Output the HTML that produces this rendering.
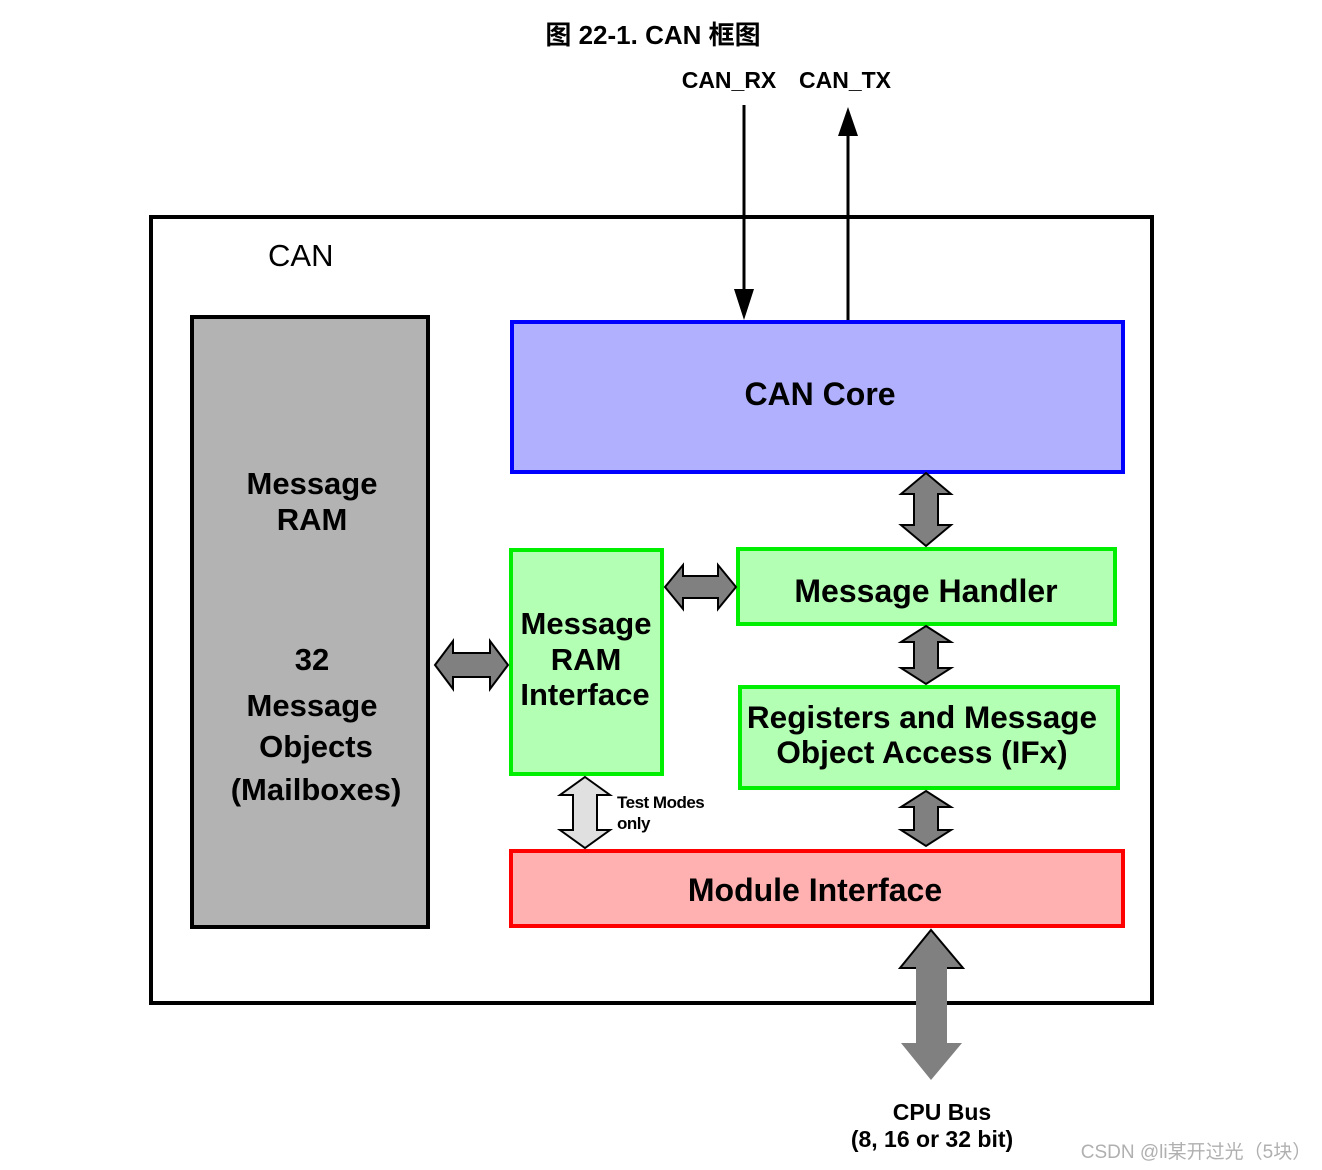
<!DOCTYPE html>
<html><head><meta charset="utf-8"><style>
html,body{margin:0;padding:0;background:#fff;}
svg{display:block;}
text{font-family:"Liberation Sans","Noto Sans CJK SC",sans-serif;font-weight:bold;fill:#000;}
</style></head><body>
<svg width="1322" height="1170" viewBox="0 0 1322 1170" xmlns="http://www.w3.org/2000/svg">
<text x="653" y="44" font-size="26" text-anchor="middle">图 22-1. CAN 框图</text>
<text x="729" y="88" font-size="23" text-anchor="middle">CAN_RX</text>
<text x="845" y="88" font-size="23" text-anchor="middle">CAN_TX</text>

<rect x="151" y="217" width="1001" height="786" fill="none" stroke="#000" stroke-width="4"/>
<text x="268" y="266" font-size="31" style="font-weight:normal">CAN</text>

<line x1="744" y1="105" x2="744" y2="295" stroke="#000" stroke-width="3"/>
<polygon points="734,289 754,289 744,320" fill="#000"/>
<line x1="848" y1="130" x2="848" y2="321" stroke="#000" stroke-width="3"/>
<polygon points="838,136 858,136 848,107" fill="#000"/>

<rect x="192" y="317" width="236" height="610" fill="#b3b3b3" stroke="#000" stroke-width="4"/>
<g font-size="31" text-anchor="middle">
<text x="312" y="494">Message</text>
<text x="312" y="530">RAM</text>
<text x="312" y="670">32</text>
<text x="312" y="716">Message</text>
<text x="316" y="757">Objects</text>
<text x="316" y="800">(Mailboxes)</text>
</g>

<rect x="512" y="322" width="611" height="150" fill="#b0b0ff" stroke="#0000ff" stroke-width="4"/>
<text x="820" y="405" font-size="32" text-anchor="middle">CAN Core</text>

<rect x="511" y="550" width="151" height="224" fill="#b3ffb3" stroke="#00ee00" stroke-width="4"/>
<g font-size="31" text-anchor="middle">
<text x="586" y="634">Message</text>
<text x="586" y="670">RAM</text>
<text x="585" y="705">Interface</text>
</g>

<rect x="738" y="549" width="377" height="75" fill="#b3ffb3" stroke="#00ee00" stroke-width="4"/>
<text x="926" y="602" font-size="32" text-anchor="middle">Message Handler</text>

<rect x="740" y="687" width="378" height="101" fill="#b3ffb3" stroke="#00ee00" stroke-width="4"/>
<g font-size="31.5" text-anchor="middle">
<text x="922" y="728">Registers and Message</text>
<text x="922" y="763">Object Access (IFx)</text>
</g>

<rect x="511" y="851" width="612" height="75" fill="#ffb0b0" stroke="#ff0000" stroke-width="4"/>
<text x="815" y="901" font-size="32" text-anchor="middle">Module Interface</text>

<g fill="#808080" stroke="#000" stroke-width="2">
<polygon points="926,473 951,494 938,494 938,525 951,525 926,546 901,525 914,525 914,494 901,494"/>
<polygon points="926,626 951,642 938,642 938,668 951,668 926,684 901,668 914,668 914,642 901,642"/>
<polygon points="926,791 951,807 938,807 938,830 951,830 926,846 901,830 914,830 914,807 901,807"/>
<polygon points="665,587 683,565 683,576 718,576 718,565 736,587 718,609 718,598 683,598 683,609"/>
<polygon points="435,665 453,641 453,653 490,653 490,641 508,665 490,689 490,677 453,677 453,689"/>
</g>
<polygon points="585,777 610,795 597,795 597,830 610,830 585,848 560,830 573,830 573,795 560,795" fill="#e0e0e0" stroke="#000" stroke-width="2"/>
<g font-size="17" style="letter-spacing:-0.5px">
<text x="617" y="808">Test Modes</text>
<text x="617" y="829">only</text>
</g>

<polygon points="931,930 963,968 947,968 947,1043 962,1043 931,1080 901,1043 916,1043 916,968 900,968" fill="#808080"/>
<polyline points="916,968 900,968 931,930 963,968 947,968" fill="none" stroke="#000" stroke-width="2"/>
<g font-size="23" text-anchor="middle">
<text x="942" y="1120">CPU Bus</text>
<text x="932" y="1147">(8, 16 or 32 bit)</text>
</g>
<text x="1196" y="1158" font-size="19" text-anchor="middle" style="font-weight:normal;fill:#b0b0b0">CSDN @li某开过光（5块）</text>
</svg>
</body></html>
